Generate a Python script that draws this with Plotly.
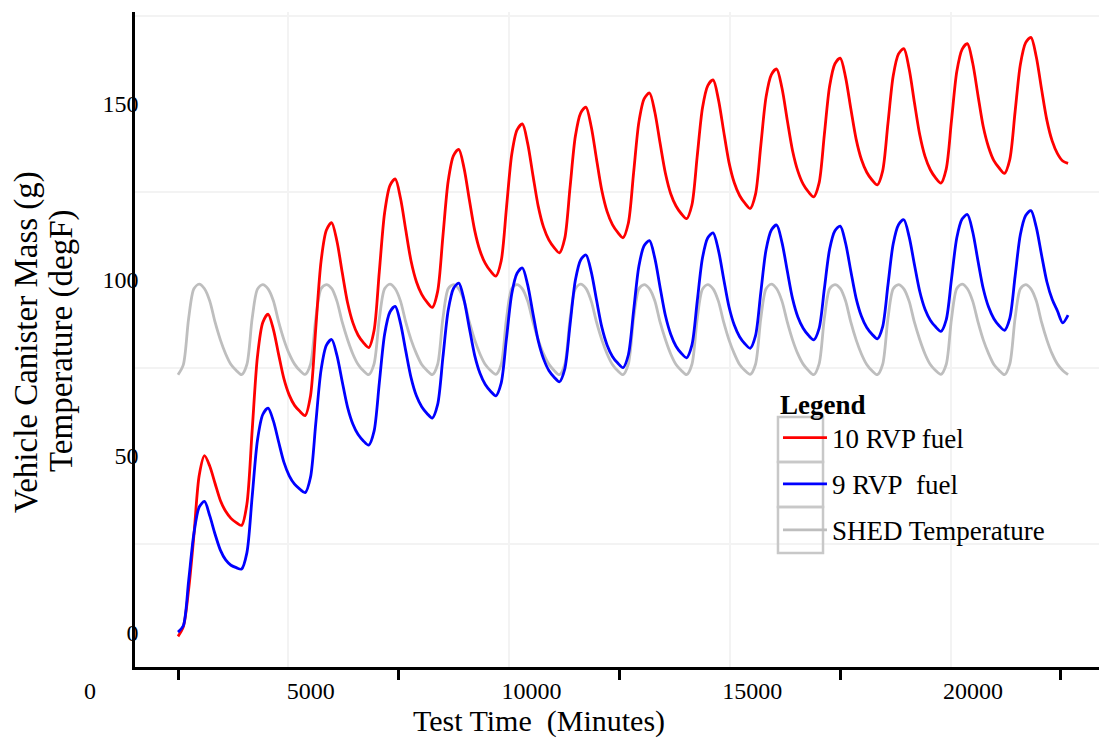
import plotly.graph_objects as go

# ---------------- data ----------------
HOURS_OF_DAY = [0, 2, 4, 6, 8, 10, 12, 14, 16, 18, 20, 22]
N_DAYS = 14
END_TIME_MIN = 20160

TIME_MIN = [d * 1440 + h * 60 for d in range(N_DAYS) for h in HOURS_OF_DAY] + [END_TIME_MIN]

RED_10RVP = [
    -1.2, 1.5, 12.0, 27.5, 44.5, 50.1, 47.1, 42.2, 37.4, 34.3, 32.3, 31.1,
    30.3, 36.3, 57.3, 78.3, 87.9, 90.3, 86.0, 78.8, 71.9, 67.3, 64.4, 62.7,
    61.5, 67.0, 86.2, 105.3, 114.1, 116.3, 111.0, 102.1, 93.6, 87.9, 84.3, 82.2,
    80.8, 85.6, 102.4, 119.1, 126.8, 128.7, 123.2, 114.1, 105.3, 99.5, 95.9, 93.7,
    92.2, 96.7, 112.4, 128.1, 135.3, 137.1, 131.7, 122.7, 114.1, 108.3, 104.7, 102.5,
    101.1, 105.4, 120.5, 135.7, 142.6, 144.3, 138.8, 129.7, 120.9, 115.0, 111.4, 109.2,
    107.7, 111.8, 126.3, 140.8, 147.4, 149.1, 143.5, 134.3, 125.4, 119.4, 115.7, 113.5,
    112.0, 116.1, 130.5, 144.9, 151.5, 153.1, 147.7, 138.8, 130.3, 124.5, 121.0, 118.8,
    117.4, 121.3, 135.1, 148.9, 155.2, 156.8, 151.3, 142.2, 133.4, 127.6, 124.0, 121.8,
    120.3, 124.3, 138.1, 152.0, 158.3, 159.9, 154.5, 145.4, 136.7, 130.9, 127.2, 125.0,
    123.6, 127.5, 141.3, 155.1, 161.4, 163.0, 157.6, 148.6, 140.0, 134.2, 130.6, 128.4,
    127.0, 130.9, 144.4, 158.0, 164.2, 165.7, 160.0, 150.4, 141.3, 135.1, 131.3, 129.0,
    127.5, 131.5, 145.3, 159.2, 165.5, 167.1, 161.6, 152.4, 143.5, 137.7, 133.9, 131.8,
    130.3, 134.2, 147.7, 161.2, 167.4, 168.9, 163.4, 154.2, 145.4, 139.5, 135.9, 133.8,
    133.1,
]

BLUE_9RVP = [
    0.0, 1.8, 14.5, 28.0, 35.5, 37.1, 33.0, 27.8, 23.3, 20.5, 19.0, 18.3,
    17.9, 22.5, 38.5, 54.5, 61.8, 63.6, 60.0, 54.0, 48.2, 44.4, 42.0, 40.6,
    39.6, 43.9, 59.2, 74.4, 81.4, 83.1, 78.6, 71.1, 63.9, 59.1, 56.1, 54.3,
    53.1, 57.0, 70.8, 84.6, 90.9, 92.5, 87.7, 79.8, 72.2, 67.1, 64.0, 62.1,
    60.8, 64.6, 78.0, 91.4, 97.6, 99.1, 94.3, 86.3, 78.6, 73.5, 70.3, 68.4,
    67.1, 70.7, 83.4, 96.1, 101.9, 103.4, 98.6, 90.5, 82.7, 77.6, 74.3, 72.4,
    71.1, 74.7, 87.3, 99.9, 105.7, 107.1, 102.3, 94.3, 86.6, 81.5, 78.3, 76.4,
    75.1, 78.7, 91.3, 104.0, 109.8, 111.2, 106.2, 97.9, 89.9, 84.6, 81.2, 79.2,
    77.9, 81.5, 93.9, 106.3, 112.0, 113.4, 108.5, 100.3, 92.4, 87.2, 83.9, 81.9,
    80.6, 84.1, 96.4, 108.6, 114.2, 115.6, 110.7, 102.6, 94.7, 89.5, 86.3, 84.3,
    83.0, 86.2, 97.5, 108.8, 114.0, 115.3, 110.5, 102.5, 94.8, 89.7, 86.5, 84.6,
    83.3, 86.7, 98.5, 110.3, 115.7, 117.1, 112.3, 104.4, 96.8, 91.7, 88.6, 86.7,
    85.4, 88.7, 100.3, 112.0, 117.3, 118.6, 113.7, 105.4, 97.5, 92.3, 89.0, 87.0,
    85.7, 89.1, 101.0, 112.9, 118.3, 119.7, 115.0, 107.1, 99.5, 94.5, 91.2, 87.8,
    90.0,
]

SHED_TEMP = [
    73.1, 75.9, 89.0, 97.5, 98.8, 97.5, 94.0, 88.0, 83.0, 79.0, 76.0, 74.3,
    73.1, 76.0, 89.1, 97.4, 98.7, 97.5, 94.1, 88.1, 83.0, 79.0, 76.1, 74.3,
    73.2, 76.0, 89.0, 97.5, 98.7, 97.6, 94.0, 88.0, 83.1, 79.0, 76.0, 74.2,
    73.1, 76.1, 89.0, 97.5, 98.8, 97.5, 94.0, 88.0, 83.0, 79.1, 76.0, 74.3,
    73.1, 76.0, 89.1, 97.5, 98.7, 97.5, 94.1, 88.0, 83.0, 79.0, 76.0, 74.3,
    73.2, 76.0, 89.0, 97.6, 98.7, 97.5, 94.0, 88.1, 83.0, 79.0, 76.1, 74.3,
    73.1, 76.0, 89.0, 97.5, 98.8, 97.6, 94.0, 88.0, 83.0, 79.0, 76.0, 74.2,
    73.1, 76.1, 89.1, 97.5, 98.7, 97.5, 94.1, 88.0, 83.1, 79.0, 76.0, 74.3,
    73.1, 76.0, 89.0, 97.4, 98.7, 97.5, 94.0, 88.0, 83.0, 79.1, 76.0, 74.3,
    73.2, 76.0, 89.0, 97.5, 98.8, 97.5, 94.0, 88.1, 83.0, 79.0, 76.1, 74.3,
    73.1, 76.1, 89.1, 97.5, 98.7, 97.6, 94.1, 88.0, 83.0, 79.0, 76.0, 74.2,
    73.1, 76.0, 89.0, 97.5, 98.7, 97.5, 94.0, 88.0, 83.1, 79.0, 76.0, 74.3,
    73.2, 76.0, 89.0, 97.6, 98.8, 97.5, 94.0, 88.1, 83.0, 79.1, 76.0, 74.3,
    73.1, 76.1, 89.1, 97.5, 98.7, 97.5, 94.1, 88.0, 83.0, 79.0, 76.1, 74.3,
    73.1,
]

SERIES_NAMES = ["10 RVP fuel", "9 RVP\u00a0 fuel", "SHED Temperature"]

X_TICKS = [0, 5000, 10000, 15000, 20000]
X_TICK_LABELS = ["0", "5000", "10000", "15000", "20000"]
X_GRID = [2500, 7500, 12500, 17500]
Y_TICKS = [0, 50, 100, 150]
Y_TICK_LABELS = ["0", "50", "100", "150"]
Y_GRID = [25, 75, 125, 175]

# ---------------- figure ----------------
FONT = "Liberation Serif, Times New Roman, serif"
GRID = "#f3f3f3"

fig = go.Figure()
fig.add_trace(go.Scatter(
    x=TIME_MIN, y=SHED_TEMP, mode="lines", name=SERIES_NAMES[2],
    legendgroup="c", legendrank=3,
    line=dict(color="#bebebe", width=2.8, shape="spline", smoothing=0.8)))
fig.add_trace(go.Scatter(
    x=TIME_MIN, y=RED_10RVP, mode="lines", name=SERIES_NAMES[0],
    legendgroup="a", legendrank=1,
    line=dict(color="#ff0000", width=2.8, shape="spline", smoothing=0.8)))
fig.add_trace(go.Scatter(
    x=TIME_MIN, y=BLUE_9RVP, mode="lines", name=SERIES_NAMES[1],
    legendgroup="b", legendrank=2,
    line=dict(color="#0000ff", width=2.8, shape="spline", smoothing=0.8)))

# legend key boxes (paper coordinates)
box_x0, box_x1 = 0.6670, 0.7137
box_rows = [(0.3817, 0.3130), (0.3130, 0.2443), (0.2443, 0.1740)]
shapes = []
for top, bot in box_rows:
    shapes.append(dict(type="rect", xref="paper", yref="paper",
                       x0=box_x0, x1=box_x1, y0=bot, y1=top,
                       line=dict(color="#c8c8c8", width=2.5),
                       fillcolor="rgba(0,0,0,0)", layer="above"))

fig.update_layout(
    width=1099, height=740,
    margin=dict(l=135, r=0, t=12, b=73, pad=0),
    paper_bgcolor="white", plot_bgcolor="white",
    font=dict(family=FONT, color="black", size=24),
    showlegend=True,
    xaxis=dict(
        range=[-974, 20861], tickmode="array", tickvals=X_TICKS, ticktext=X_TICK_LABELS,
        ticks="outside", ticklen=10, tickwidth=2.5, tickcolor="black",
        ticklabelshift=-88, ticklabelstandoff=-10,
        tickfont=dict(family=FONT, size=24, color="black"),
        showline=True, linewidth=2.5, linecolor="black",
        showgrid=False, zeroline=False,
        minor=dict(tickmode="array", tickvals=X_GRID, ticks="", showgrid=True,
                   gridcolor=GRID, gridwidth=1.5),
    ),
    yaxis=dict(
        range=[-9.9, 176.1], tickmode="array", tickvals=Y_TICKS, ticktext=Y_TICK_LABELS,
        ticks="", ticklabelstandoff=-11,
        tickfont=dict(family=FONT, size=24, color="black"),
        showline=True, linewidth=2.5, linecolor="black",
        showgrid=False, zeroline=False,
        minor=dict(tickmode="array", tickvals=Y_GRID, ticks="", showgrid=True,
                   gridcolor=GRID, gridwidth=1.5),
    ),
    legend=dict(
        x=0.667, y=0.4404, xanchor="left", yanchor="top",
        bgcolor="rgba(0,0,0,0)", borderwidth=0,
        font=dict(family=FONT, size=27, color="black"),
        title=dict(text="<b>Legend</b>", font=dict(family=FONT, size=27, color="black")),
        tracegroupgap=8, itemwidth=44,
    ),
    shapes=shapes,
    annotations=[
        dict(text="Test Time\u00a0 (Minutes)", xref="paper", yref="paper",
             x=(539 - 135) / 964, y=(667 - 739.5) / 655, xanchor="center", yanchor="bottom",
             showarrow=False, borderpad=0,
             font=dict(family=FONT, size=30, color="black")),
        dict(text="Vehicle Canister Mass (g)", xref="paper", yref="paper",
             x=(27 - 135) / 964, y=(667 - 342) / 655, xanchor="center", yanchor="middle",
             textangle=-90, showarrow=False, font=dict(family=FONT, size=33, color="black")),
        dict(text="Temperature (degF)", xref="paper", yref="paper",
             x=(61 - 135) / 964, y=(667 - 341) / 655, xanchor="center", yanchor="middle",
             textangle=-90, showarrow=False, font=dict(family=FONT, size=33, color="black")),
    ],
)

fig.write_html("out.html", config={"displayModeBar": False},
               post_script="document.body.style.margin='0';")
